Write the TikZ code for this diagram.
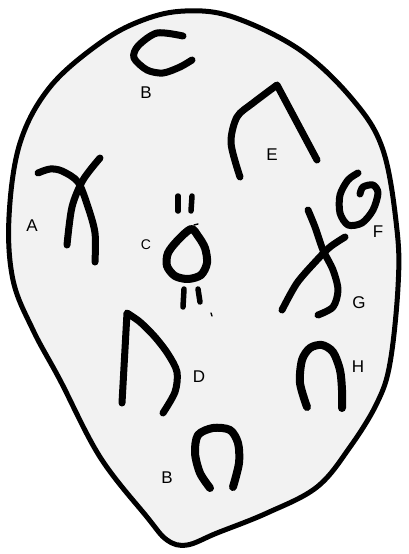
\documentclass[tikz,border=0pt]{standalone}
\usepackage{fontspec}
\setmainfont{Liberation Sans}
\begin{document}
\begin{tikzpicture}[x=1pt,y=-1pt,
  glyph/.style={line width=7pt, line cap=round, line join=round},
  outline/.style={line width=5pt, line join=round, fill=black!5},
  lbl/.style={font=\fontsize{17}{17}\selectfont, inner sep=0pt},
  slbl/.style={font=\fontsize{14}{14}\selectfont, inner sep=0pt},
  speck/.style={line width=1.4pt, line cap=round}]
\useasboundingbox (0,0) rectangle (408,554);
% outline of the stone
\draw[outline] plot[smooth cycle, tension=0.6] coordinates {
 (185,11) (233,17) (300,50) (353,100) (383,150) (397,230) (398,287)
 (390,363) (377,403) (350,447) (317,487) (267,513) (217,533) (187,545)
 (167,540) (147,517) (100,457) (60,380) (33,330) (13,280) (9,217)
 (20,143) (50,87) (100,43) (143,20)};
% B (top)
\draw[glyph] plot[smooth] coordinates {(183,36) (157,33) (138,46) (134,58) (147,70) (163,73) (180,67) (192,60)};
% E
\draw[glyph] plot[smooth] coordinates {(240,177) (231,143) (237,117) (253,103) (277,85)} -- (317,160);
% A
\draw[glyph] plot[smooth] coordinates {(100,158) (83,180) (72,207) (67,245)};
\draw[glyph] plot[smooth] coordinates {(38,173) (50,169) (62,171) (78,182) (88,207) (95,233) (95,262)};
% C
\draw[glyph, line width=8pt] plot[smooth cycle] coordinates {(191,229) (178,240) (168,253) (167,266) (175,276) (188,279) (201,275) (207,263) (205,248) (198,236)};
\draw[glyph, line width=5.5pt] (178,196) -- (178,211);
\draw[glyph, line width=5.5pt] (192,196) -- (191,211);
\draw[glyph, line width=5.5pt] (184,289) -- (183,307);
\draw[glyph, line width=5.5pt] (198,289) -- (200,302);
\draw[speck] (194,225) -- (198,224);
\draw[speck] (211,313) -- (212,316);
% F
\draw[glyph] plot[smooth] coordinates {(358,173) (348,180) (340,195) (340,213) (348,225) (362,223) (373,210) (378,193) (373,185) (363,187) (360,194)};
% G
\draw[glyph] plot[smooth] coordinates {(308,210) (315,227) (323,250) (333,270) (338,290) (333,307) (318,315)};
\draw[glyph] plot[smooth] coordinates {(345,237) (330,247) (317,260) (297,283) (282,310)};
% D
\draw[glyph] (122,403) -- plot[smooth] coordinates {(127,313) (140,322) (155,337) (168,354) (177,372) (175,392) (163,413)};
% H
\draw[glyph, line width=8pt] plot[smooth] coordinates {(307,407) (300,383) (302,360) (310,348) (322,345) (333,352) (340,370) (342,390) (342,408)};
% B (bottom)
\draw[glyph, line width=8pt] plot[smooth] coordinates {(210,488) (200,473) (195,453) (198,435) (213,428) (230,430) (238,443) (239,463) (233,487)};
% labels
\node[lbl] (lB1) at (146,93) {B};
\node[lbl] (lE) at (272,155) {E};
\node[lbl] (lA) at (32,226) {A};
\node[slbl] (lC) at (146,245) {C};
\node[lbl] (lF) at (378,232) {F};
\node[lbl] (lG) at (359,303) {G};
\node[lbl] (lD) at (199,377) {D};
\node[lbl] (lH) at (358,367) {H};
\node[lbl] (lB2) at (167,478) {B};
\end{tikzpicture}
\end{document}
